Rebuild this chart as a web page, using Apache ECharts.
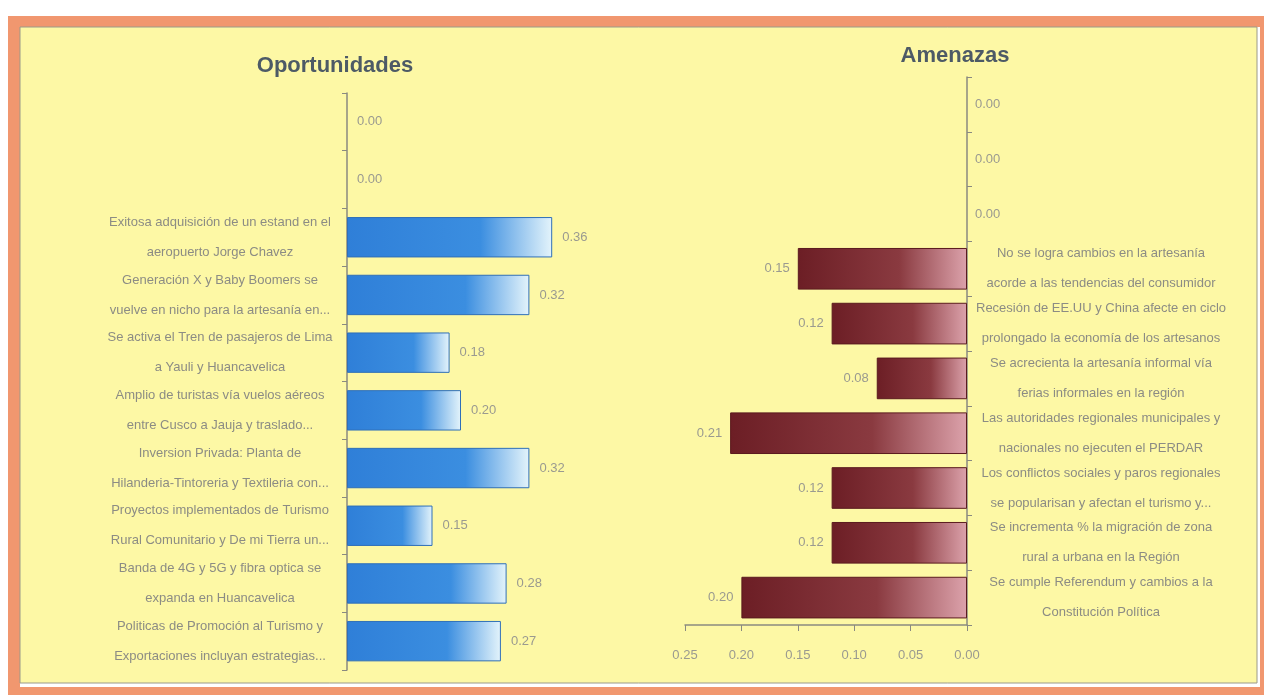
<!DOCTYPE html>
<html>
<head>
<meta charset="utf-8">
<script src="https://cdn.jsdelivr.net/npm/echarts@6/dist/echarts.min.js"></script>
<style>
html,body{margin:0;padding:0;background:#fff;}
#c{width:1264px;height:695px;}
</style>
</head>
<body>
<div id="c"></div>
<script>
// ---- Data ----
var opCategories = [
  '',
  '',
  'Exitosa adquisición de un estand en el\naeropuerto Jorge Chavez',
  'Generación X y Baby Boomers se\nvuelve en nicho para la artesanía en...',
  'Se activa el Tren de pasajeros de Lima\na Yauli y Huancavelica',
  'Amplio de turistas vía vuelos aéreos\nentre Cusco a Jauja y traslado...',
  'Inversion Privada: Planta de\nHilanderia-Tintoreria y Textileria con...',
  'Proyectos implementados de Turismo\nRural Comunitario y De mi Tierra un...',
  'Banda de 4G y 5G y fibra optica se\nexpanda en Huancavelica',
  'Politicas de Promoción al Turismo y\nExportaciones incluyan estrategias...'
];
var opValues = [0, 0, 0.36, 0.32, 0.18, 0.20, 0.32, 0.15, 0.28, 0.27];

var amCategories = [
  '',
  '',
  '',
  'No se logra cambios en la artesanía\nacorde a las tendencias del consumidor',
  'Recesión de EE.UU y China afecte en ciclo\nprolongado la economía de los artesanos',
  'Se acrecienta la artesanía informal vía\nferias informales en la región',
  'Las autoridades regionales municipales y\nnacionales no ejecuten el PERDAR',
  'Los conflictos sociales y paros regionales\nse popularisan y afectan el turismo y...',
  'Se incrementa % la migración de zona\nrural a urbana en la Región',
  'Se cumple Referendum y cambios a la\nConstitución Política'
];
var amValues = [0, 0, 0, 0.15, 0.12, 0.08, 0.21, 0.12, 0.12, 0.20];
var amTicks = [0, 0.05, 0.10, 0.15, 0.20, 0.25];

// ---- Chart ----
var FONT = '"Liberation Sans Narrow","Arial Narrow","Liberation Sans",sans-serif';
var chart = echarts.init(document.getElementById('c'), null, {renderer: 'canvas'});

var blueGrad = new echarts.graphic.LinearGradient(0, 0, 1, 0, [
  {offset: 0, color: '#2f7fd8'},
  {offset: 0.65, color: '#3b8ee0'},
  {offset: 1, color: '#e4f4fb'}
]);
var redGrad = new echarts.graphic.LinearGradient(0, 0, 1, 0, [
  {offset: 0, color: '#6c1e25'},
  {offset: 0.6, color: '#8a3a40'},
  {offset: 1, color: '#dca2ab'}
]);

function fmt(v){ return (Math.round(v*100)/100).toFixed(2); }

var opData = opValues.map(function(v){
  return v === 0 ? {value: v, itemStyle: {borderWidth: 0, opacity: 0}} : v;
});
var amData = amValues.map(function(v){
  return v === 0 ? {value: v, label: {position: 'right'}, itemStyle: {borderWidth: 0, opacity: 0}} : v;
});

chart.setOption({
  animation: false,
  backgroundColor: 'transparent',
  graphic: [
    {type: 'rect', silent: true, z: -10, shape: {x: 8, y: 16, width: 1256, height: 679}, style: {fill: '#f1976f'}},
    {type: 'rect', silent: true, z: -9, shape: {x: 20, y: 27, width: 1240, height: 660}, style: {fill: '#ffffff'}},
    {type: 'rect', silent: true, z: -8, shape: {x: 20, y: 27, width: 1237, height: 656}, style: {fill: '#fdf8a5', stroke: '#9a9a8a', lineWidth: 1}}
  ],
  title: [
    {text: 'Oportunidades', left: 330, top: 50, textAlign: 'center',
     textStyle: {fontFamily: FONT, fontWeight: 'bold', fontSize: 22, color: '#4d5a66'}},
    {text: 'Amenazas', left: 950, top: 40, textAlign: 'center',
     textStyle: {fontFamily: FONT, fontWeight: 'bold', fontSize: 22, color: '#4d5a66'}}
  ],
  grid: [
    {left: 347, top: 93, width: 228, bottom: 25},
    {left: 685, right: 297, top: 77, bottom: 70}
  ],
  xAxis: [
    {gridIndex: 0, type: 'value', min: 0, max: 0.4, show: false},
    {gridIndex: 1, type: 'value', min: 0, max: 0.25, interval: 0.05, inverse: true,
     axisLine: {show: true, lineStyle: {color: '#8a8a80', width: 1.5}},
     axisTick: {show: true, length: 6, lineStyle: {color: '#8a8a80'}},
     splitLine: {show: false},
     axisLabel: {margin: 24, color: '#9a9a90', fontFamily: FONT, fontSize: 13,
       formatter: function(v){ return fmt(v); }}}
  ],
  yAxis: [
    {gridIndex: 0, type: 'category', data: opCategories, inverse: true,
     axisLine: {show: true, lineStyle: {color: '#8a8a80', width: 1.5}},
     axisTick: {show: true, length: 5, lineStyle: {color: '#8a8a80'}},
     axisLabel: {margin: 127, align: 'center', color: '#8c8c84', fontFamily: FONT,
       fontSize: 13, lineHeight: 30, interval: 0}},
    {gridIndex: 1, type: 'category', data: amCategories, inverse: true, position: 'right',
     axisLine: {show: true, lineStyle: {color: '#8a8a80', width: 1.5}},
     axisTick: {show: true, length: 5, lineStyle: {color: '#8a8a80'}},
     axisLabel: {margin: 134, align: 'center', color: '#8c8c84', fontFamily: FONT,
       fontSize: 13, lineHeight: 30, interval: 0}}
  ],
  series: [
    {type: 'bar', xAxisIndex: 0, yAxisIndex: 0, data: opData, barCategoryGap: '30%',
     itemStyle: {color: blueGrad, borderColor: '#2f6fb8', borderWidth: 1},
     label: {show: true, position: 'right', distance: 10, color: '#9a9a90', opacity: 1,
       fontFamily: FONT, fontSize: 13, formatter: function(p){ return fmt(p.value); }}},
    {type: 'bar', xAxisIndex: 1, yAxisIndex: 1, data: amData, barCategoryGap: '24%',
     itemStyle: {color: redGrad, borderColor: '#5a1a1e', borderWidth: 1},
     label: {show: true, position: 'left', distance: 8, color: '#9a9a90', opacity: 1,
       fontFamily: FONT, fontSize: 13, formatter: function(p){ return fmt(p.value); }}}
  ]
});
</script>
</body>
</html>
